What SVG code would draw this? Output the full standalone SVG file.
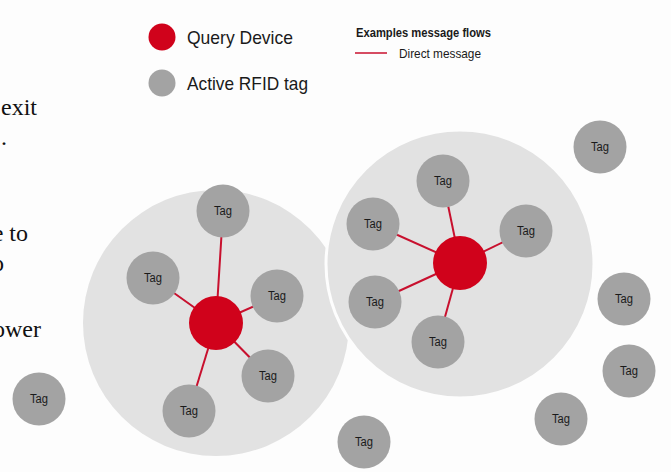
<svg xmlns="http://www.w3.org/2000/svg" width="671" height="472" viewBox="0 0 671 472">
<style>
.zone{fill:#e2e2e2}
.zone2{fill:#e2e2e2;stroke:#fdfdfd;stroke-width:3}
.tag{fill:#a3a3a3}
.qd{fill:#d0021b}
.lbl{font-family:"Liberation Sans",Arial,sans-serif;font-size:12px;fill:#1a1a1a;text-anchor:middle}
.leg{font-family:"Liberation Sans",Arial,sans-serif;font-size:19px;fill:#1a1a1a}
.ser{font-family:"Liberation Serif","Times New Roman",serif;font-size:24px;fill:#111}
.conn line{stroke:#c8102e;stroke-width:2}
</style>
<rect width="671" height="472" fill="#fdfdfd"/>
<g id="sidetext">
<text class="ser" x="1" y="115">exit</text>
<text class="ser" x="1" y="145">.</text>
<text class="ser" x="28" y="241" text-anchor="end">e to</text>
<text class="ser" x="4" y="271" text-anchor="end">o</text>
<text class="ser" x="41" y="337" text-anchor="end">ower</text>
</g>
<g id="legend">
<circle class="qd" cx="162" cy="37" r="13.5"/>
<text class="leg" x="187" y="44" textLength="106" lengthAdjust="spacingAndGlyphs">Query Device</text>
<circle class="tag" cx="162" cy="83" r="13.5"/>
<text class="leg" x="187" y="90" textLength="121" lengthAdjust="spacingAndGlyphs">Active RFID tag</text>
<text x="356" y="37" font-family="Liberation Sans,Arial,sans-serif" font-size="13" font-weight="bold" fill="#1a1a1a" textLength="135" lengthAdjust="spacingAndGlyphs">Examples message flows</text>
<line x1="355" y1="53" x2="387" y2="53" stroke="#c8102e" stroke-width="1.5"/>
<text x="399" y="58" font-family="Liberation Sans,Arial,sans-serif" font-size="13" fill="#1a1a1a" textLength="82" lengthAdjust="spacingAndGlyphs">Direct message</text>
</g>
<g id="zones">
<circle id="zone-left" class="zone" cx="216" cy="323" r="133"/>
<circle id="zone-right" class="zone2" cx="460" cy="264" r="134"/>
</g>
<g id="connectors" class="conn">
<line x1="216" y1="323" x2="223" y2="211"/>
<line x1="216" y1="323" x2="153" y2="278"/>
<line x1="216" y1="323" x2="277" y2="296"/>
<line x1="216" y1="323" x2="268" y2="376"/>
<line x1="216" y1="323" x2="189" y2="411"/>
<line x1="460" y1="263" x2="443" y2="181"/>
<line x1="460" y1="263" x2="373" y2="224"/>
<line x1="460" y1="263" x2="526" y2="231"/>
<line x1="460" y1="263" x2="375" y2="302"/>
<line x1="460" y1="263" x2="438" y2="342"/>
</g>
<g id="qd-left"><circle class="qd" cx="216" cy="323" r="27"/></g>
<g id="qd-right"><circle class="qd" cx="460" cy="263" r="27"/></g>
<g id="tag-l1"><circle class="tag" cx="223" cy="211" r="26.5"/><text class="lbl" x="223" y="215" textLength="18" lengthAdjust="spacingAndGlyphs">Tag</text></g>
<g id="tag-l2"><circle class="tag" cx="153" cy="278" r="26.5"/><text class="lbl" x="153" y="282" textLength="18" lengthAdjust="spacingAndGlyphs">Tag</text></g>
<g id="tag-l3"><circle class="tag" cx="277" cy="296" r="26.5"/><text class="lbl" x="277" y="300" textLength="18" lengthAdjust="spacingAndGlyphs">Tag</text></g>
<g id="tag-l4"><circle class="tag" cx="268" cy="376" r="26.5"/><text class="lbl" x="268" y="380" textLength="18" lengthAdjust="spacingAndGlyphs">Tag</text></g>
<g id="tag-l5"><circle class="tag" cx="189" cy="411" r="26.5"/><text class="lbl" x="189" y="415" textLength="18" lengthAdjust="spacingAndGlyphs">Tag</text></g>
<g id="tag-r1"><circle class="tag" cx="443" cy="181" r="26.5"/><text class="lbl" x="443" y="185" textLength="18" lengthAdjust="spacingAndGlyphs">Tag</text></g>
<g id="tag-r2"><circle class="tag" cx="373" cy="224" r="26.5"/><text class="lbl" x="373" y="228" textLength="18" lengthAdjust="spacingAndGlyphs">Tag</text></g>
<g id="tag-r3"><circle class="tag" cx="526" cy="231" r="26.5"/><text class="lbl" x="526" y="235" textLength="18" lengthAdjust="spacingAndGlyphs">Tag</text></g>
<g id="tag-r4"><circle class="tag" cx="375" cy="302" r="26.5"/><text class="lbl" x="375" y="306" textLength="18" lengthAdjust="spacingAndGlyphs">Tag</text></g>
<g id="tag-r5"><circle class="tag" cx="438" cy="342" r="26.5"/><text class="lbl" x="438" y="346" textLength="18" lengthAdjust="spacingAndGlyphs">Tag</text></g>
<g id="tag-o1"><circle class="tag" cx="39" cy="399" r="26.5"/><text class="lbl" x="39" y="403" textLength="18" lengthAdjust="spacingAndGlyphs">Tag</text></g>
<g id="tag-o2"><circle class="tag" cx="600" cy="147" r="26.5"/><text class="lbl" x="600" y="151" textLength="18" lengthAdjust="spacingAndGlyphs">Tag</text></g>
<g id="tag-o3"><circle class="tag" cx="624" cy="299" r="26.5"/><text class="lbl" x="624" y="303" textLength="18" lengthAdjust="spacingAndGlyphs">Tag</text></g>
<g id="tag-o4"><circle class="tag" cx="629" cy="371" r="26.5"/><text class="lbl" x="629" y="375" textLength="18" lengthAdjust="spacingAndGlyphs">Tag</text></g>
<g id="tag-o5"><circle class="tag" cx="561" cy="419" r="26.5"/><text class="lbl" x="561" y="423" textLength="18" lengthAdjust="spacingAndGlyphs">Tag</text></g>
<g id="tag-o6"><circle class="tag" cx="364" cy="442" r="26.5"/><text class="lbl" x="364" y="446" textLength="18" lengthAdjust="spacingAndGlyphs">Tag</text></g>
</svg>
